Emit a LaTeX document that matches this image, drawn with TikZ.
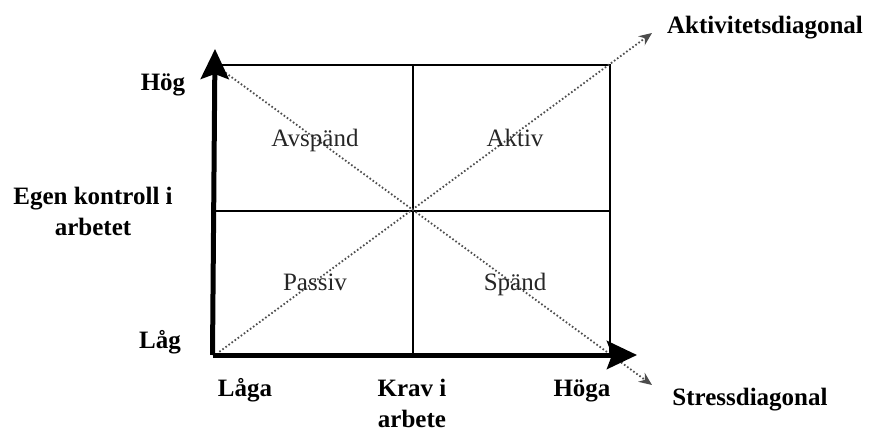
\documentclass[tikz,border=0pt]{standalone}
\usepackage{fontspec}
\setmainfont{Liberation Serif}
\usepackage{tikz}
\usetikzlibrary{arrows.meta,positioning,calc}

\tikzset{
  lbl/.style={font=\fontsize{25}{31}\selectfont\bfseries, align=center, inner sep=0pt},
  word/.style={lbl, text height=17pt, text depth=5pt},
  quad/.style={font=\fontsize{25}{31}\selectfont, text=black!85, inner sep=0pt,
    text height=17pt, text depth=5pt},
  axis/.style={line width=5pt, -{Stealth[length=30pt,width=28pt,inset=5pt]}},
  diag/.style={dash pattern=on 1.6pt off 2.2pt, line width=1.8pt, black!70,
    -{Stealth[length=13pt,width=11pt,sep=0pt]}}
}

\begin{document}
\begin{tikzpicture}[x=1pt,y=1pt,line cap=butt,line join=miter]
  \useasboundingbox (0,0) rectangle (870,432);

  % corners and centre of the field
  \coordinate (O)  at (215,77);
  \coordinate (tl) at (215,367);
  \coordinate (tr) at (610,367);
  \coordinate (br) at (610,77);
  \coordinate (c)  at (413,221);
  \coordinate (ytip) at (215,383);
  \coordinate (xtip) at (637,77);
  \coordinate (atip) at (652,399);
  \coordinate (stip) at (652,47);

  % field
  \draw[line width=1.2pt] (tl) -- (tr) -- (br);
  \draw[line width=1.2pt] (413,77) -- (413,367);
  \draw[line width=1.2pt] (215,221) -- (610,221);

  % diagonals
  \draw[diag] ($(O)!0.01!(atip)$) -- (atip);
  \draw[diag] ($(tl)!0.01!(stip)$) -- (stip);

  % axes
  \draw[axis] (212.5,77) -- (ytip);
  \draw[axis] (212.5,77) -- (xtip);

  % labels
  \node[word] (hog)  at (163,347) {Hög};
  \node[lbl]  (egen) at (93,221)  {Egen kontroll i\\arbetet};
  \node[word] (lag)  at (160,90)  {Låg};
  \node[word] (laga) at (245,42)  {Låga};
  \node[lbl]  (krav) at (412,29)  {Krav i\\arbete};
  \node[word] (hoga) at (582,42)  {Höga};
  \node[word] (stress) at (750,33)  {Stressdiagonal};
  \node[word] (aktdiag) at (765,404) {Aktivitetsdiagonal};

  % quadrants
  \node[quad] (avspand) at (315,292) {Avspänd};
  \node[quad] (aktiv)   at (515,292) {Aktiv};
  \node[quad] (passiv)  at (315,148) {Passiv};
  \node[quad] (spand)   at (515,148) {Spänd};
\end{tikzpicture}
\end{document}
